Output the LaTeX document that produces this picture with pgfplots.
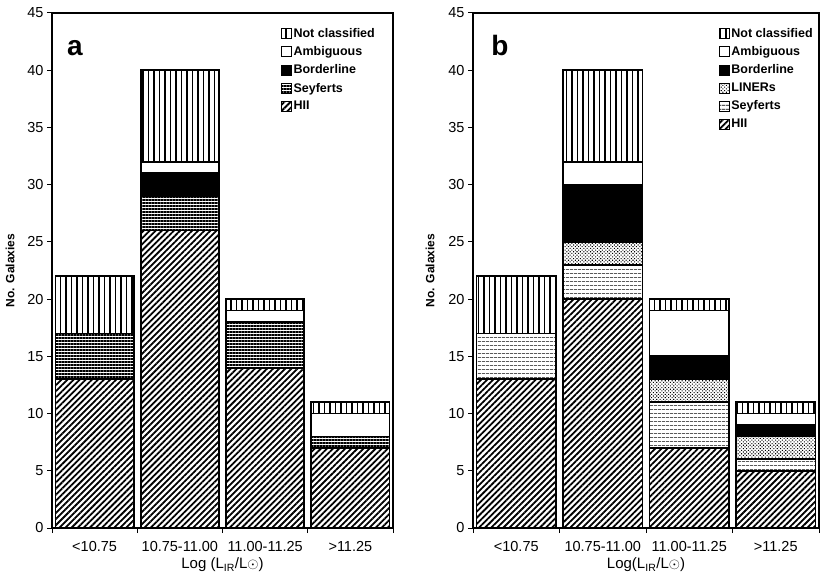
\documentclass[border=0pt]{standalone}
\usepackage{pgfplots}
\pgfplotsset{compat=1.18}
\usepackage{fontspec}
\setmainfont{Liberation Sans}
\usetikzlibrary{patterns,patterns.meta}

\tikzset{
  phii/.style={pattern={Lines[angle=45,distance=4.3pt,line width=1.8pt]}},
  pseya/.style={pattern={Lines[angle=0,distance=3pt,line width=1.3pt]}},
  pseyb/.style={pattern={Lines[angle=0,distance=4pt,line width=0.8pt]}},
  pliner/.style={pattern={Dots[angle=45,distance=2.4pt,radius=0.75pt]}},
  pnc/.style={pattern={Lines[angle=90,distance=5.5pt,line width=1.4pt]}},
}

\pgfplotsset{
  myax/.style={
    scale only axis, height=515pt,
    ybar stacked, bar width=0.92,
    ymin=0, ymax=45, ytick={0,5,...,45},
    xmin=-0.5, xmax=3.5,
    xtick={0,1,2,3},
    xticklabels={{<10.75},{10.75-11.00},{11.00-11.25},{>11.25}},
    minor xtick={-0.5,0.5,1.5,2.5,3.5},
    tick align=outside,
    xtick pos=bottom, ytick pos=left,
    major tick length=5pt, minor tick length=5pt,
    major x tick style={draw=none},
    minor x tick style={draw=black, line width=1pt},
    major y tick style={draw=black, line width=1pt},
    axis line style={line width=1.3pt},
    /pgf/number format/assume math mode=true,
    ticklabel style={font=\fontsize{14.5}{15}\selectfont},
    xticklabel style={yshift=-5pt},
    ylabel={No. Galaxies},
    ylabel style={font=\bfseries\fontsize{12}{12}\selectfont, anchor=center},
    xlabel style={font=\fontsize{15}{15}\selectfont, anchor=center, at={(rel axis cs:0.5,-0.072)}},
    every axis plot/.append style={draw=black, line width=1.8pt},
    reverse legend,
    legend cell align=left,
    legend image code/.code={\draw[#1, line width=1pt] (0pt,-5pt) rectangle (10pt,5pt);},
    legend style={draw=none, fill=none, anchor=north west, inner sep=0pt,
      font=\bfseries\fontsize{12.5}{12.5}\selectfont, row sep=5.3pt,
      nodes={inner sep=1.2pt}},
  }
}

\begin{document}
\begin{tikzpicture}
\useasboundingbox (0,0) rectangle (830pt,581pt);

% Panel a
\begin{axis}[myax, at={(52pt,53pt)}, anchor=south west, width=341pt,
  ylabel style={at={(rel axis cs:-0.123,0.5)}},
  xlabel={Log (L\textsubscript{IR}/L$\odot$)},
  legend style={at={(rel axis cs:0.672,0.973)}}]
\addplot[phii] coordinates {(0,13) (1,26) (2,14) (3,7)};
\addplot[pseya] coordinates {(0,4) (1,3) (2,4) (3,1)};
\addplot[fill=black] coordinates {(0,0) (1,2) (2,0) (3,0)};
\addplot[fill=white] coordinates {(0,0) (1,1) (2,1) (3,2)};
\addplot[pnc] coordinates {(0,5) (1,8) (2,1) (3,1)};
\legend{HII,Seyferts,Borderline,Ambiguous,Not classified}
\node[font=\bfseries\fontsize{28}{28}\selectfont] at (rel axis cs:0.067,0.932) {a};
\end{axis}

% Panel b
\begin{axis}[myax, at={(473pt,53pt)}, anchor=south west, width=346pt,
  ylabel style={at={(rel axis cs:-0.124,0.5)}},
  xlabel={Log(L\textsubscript{IR}/L$\odot$)},
  legend style={at={(rel axis cs:0.711,0.973)}}]
\addplot[phii] coordinates {(0,13) (1,20) (2,7) (3,5)};
\addplot[pseyb] coordinates {(0,4) (1,3) (2,4) (3,1)};
\addplot[pliner] coordinates {(0,0) (1,2) (2,2) (3,2)};
\addplot[fill=black] coordinates {(0,0) (1,5) (2,2) (3,1)};
\addplot[fill=white] coordinates {(0,0) (1,2) (2,4) (3,1)};
\addplot[pnc] coordinates {(0,5) (1,8) (2,1) (3,1)};
\legend{HII,Seyferts,LINERs,Borderline,Ambiguous,Not classified}
\node[font=\bfseries\fontsize{28}{28}\selectfont] at (rel axis cs:0.078,0.936) {b};
\end{axis}
\end{tikzpicture}
\end{document}
